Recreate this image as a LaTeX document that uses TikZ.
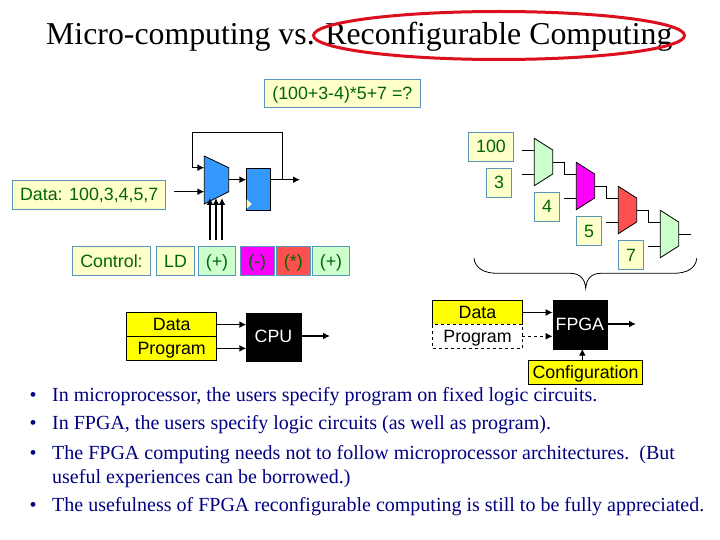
\documentclass[tikz,border=0pt]{standalone}
\usepackage{fontspec}
\setmainfont{Liberation Serif}
\newfontfamily\arialf{Liberation Sans}
\usetikzlibrary{arrows.meta,shapes.geometric}
\definecolor{boxline}{RGB}{90,150,185}
\definecolor{paleyel}{RGB}{255,255,204}
\definecolor{mint}{RGB}{204,255,204}
\definecolor{txtgreen}{RGB}{0,102,0}
\definecolor{redmux}{RGB}{255,80,80}
\definecolor{bluemux}{RGB}{51,153,255}
\definecolor{ringred}{RGB}{220,15,30}
\definecolor{bullettxt}{RGB}{0,0,128}
\definecolor{puremag}{RGB}{255,0,255}
\definecolor{pureyel}{RGB}{255,255,0}
\tikzset{
  sansbox/.style={font=\arialf\fontsize{17.8}{17.8}\selectfont,inner sep=0pt,outer sep=0pt,text height=13pt,text depth=1pt},
  gbox/.style={sansbox,draw=boxline,line width=0.8pt,fill=paleyel,text=txtgreen},
  ybox/.style={sansbox,draw=black,line width=0.8pt,fill=pureyel,text=black},
  dbox/.style={sansbox,draw=black,dashed,line width=0.8pt,fill=white,text=black},
  kbox/.style={sansbox,draw=black,fill=black,text=white},
  thick arrow/.style={line width=1.5pt,-{Latex[length=7pt,width=7pt]}},
  thin wire/.style={line width=0.8pt},
  bulletline/.style={anchor=base west,inner sep=0pt,text=bullettxt,font=\fontsize{20}{20}\selectfont},
}
\newcommand{\bx}[7][]{%
  \pgfmathsetmacro{\cxv}{(#3+#5)/2}\pgfmathsetmacro{\cyv}{(#4+#6)/2}%
  \pgfmathsetmacro{\wv}{#5-#3}\pgfmathsetmacro{\hv}{#6-#4}%
  \node[#1,minimum width=\wv pt,minimum height=\hv pt] (#2) at (\cxv,\cyv) {#7};}
\newcommand{\smallmux}[4]{%
  \pgfmathsetmacro{\xr}{#2+18.4}\pgfmathsetmacro{\ya}{#3+11.7}\pgfmathsetmacro{\yb}{#3+35.7}\pgfmathsetmacro{\yc}{#3+47.4}%
  \pgfmathsetmacro{\yi}{#3+11.9}\pgfmathsetmacro{\yj}{#3+35.9}\pgfmathsetmacro{\yo}{#3+24}%
  \draw[thin wire,fill=#4] (#2,#3) -- (\xr,\ya) -- (\xr,\yb) -- (#2,\yc) -- cycle;
  \coordinate (#1-a) at (#2,\yi);\coordinate (#1-b) at (#2,\yj);\coordinate (#1-o) at (\xr,\yo);}
\begin{document}
\begin{tikzpicture}[x=1pt,y=-1pt]
\useasboundingbox (0,0) rectangle (720,540);
\fill[white] (0,0) rectangle (720,540);
% title
\node[anchor=base west,inner sep=0pt,font=\fontsize{31.8}{31.8}\selectfont] (title) at (46,45) {Micro-computing vs. Reconfigurable Computing};
\node[draw=ringred,line width=3pt,shape=ellipse,minimum width=371pt,minimum height=48pt,inner sep=0pt] (ring) at (499,35.5) {};
% expression
\bx[gbox]{expr}{264}{79}{420.7}{107.7}{(100+3-4)*5+7 =?}
% left data path
\bx[gbox]{datal}{12.7}{180.3}{165.7}{209.7}{Data: 100,3,4,5,7}
\draw[line width=0.8pt,fill=bluemux] (204.3,156) -- (228.7,167.7) -- (228.7,191.7) -- (204.3,204) -- cycle;
\coordinate (alua) at (204.3,167.7);
\coordinate (alub) at (204.3,191.7);
\coordinate (aluo) at (228.7,179.7);
\node[draw=black,fill=bluemux,line width=0.8pt,inner sep=0pt,outer sep=0pt,minimum width=24.4pt,minimum height=42.4pt] (reg) at (258.5,189.5) {};
\draw[fill=paleyel,draw=none] (246.7,199.3) -- (251.7,204) -- (246.7,208.7) -- cycle;
\coordinate (dataout) at (174,191.7);
\coordinate (regout) at (300,179.7);
\coordinate (fbtap) at (282.7,179.7);
\coordinate (fb1) at (282.7,132.7);
\coordinate (fb2) at (192.3,132.7);
\coordinate (fb3) at (192.3,167.7);
\draw[line width=0.8pt] (fbtap) -- (fb1) -- (fb2) -- (fb3);
\draw[thick arrow] (fb3) -- (alua);
\draw[thick arrow] (dataout) -- (alub);
\draw[thick arrow] (aluo) -- (reg.west |- aluo);
\draw[thick arrow] (reg.east |- regout) -- (regout);
\foreach \n/\x in {c1/210,c2/216,c3/222}{
  \coordinate (\n b) at (\x,240);
  \coordinate (\n t) at (\x,198);
  \draw[thick arrow] (\n b) -- (\n t);
}
% control row
\bx[gbox]{ctl}{72.3}{246.3}{150.7}{275.7}{Control:}
\bx[gbox]{ld}{156.3}{246.3}{194.7}{275.7}{LD}
\bx[gbox,fill=mint]{op1}{198.3}{246.3}{235.7}{275.7}{(+)}
\bx[gbox,fill=puremag]{op2}{240.3}{246.3}{274}{275.7}{(-)}
\bx[gbox,fill=redmux]{op3}{276}{246.3}{310.7}{275.7}{(*)}
\bx[gbox,fill=mint]{op4}{312.3}{246.3}{349.7}{275.7}{(+)}
% CPU
\bx[ybox]{dta}{126.7}{312.7}{216.7}{336.5}{Data}
\bx[ybox]{prg}{126.7}{336.5}{216.7}{360.3}{Program}
\bx[kbox]{cpu}{246.3}{312.7}{300.7}{360.7}{CPU}
\coordinate (cpuout) at (330,336);
\draw[thick arrow] (dta.east) -- (cpu.west |- dta.east);
\draw[thick arrow] (prg.east) -- (cpu.west |- prg.east);
\draw[thick arrow] (cpu.east |- cpuout) -- (cpuout);
% FPGA
\bx[ybox]{dtb}{432.7}{300.7}{522.3}{324.3}{Data}
\bx[dbox]{prb}{432.7}{324.3}{522.3}{348.3}{Program}
\bx[kbox]{fpga}{552.7}{300}{607}{348.7}{FPGA}
\bx[ybox]{conf}{528.7}{360.3}{642.3}{384.3}{Configuration}
\coordinate (fpout) at (636,324);
\coordinate (cfgx) at (582.3,360);
\draw[thick arrow] (dtb.east) -- (fpga.west |- dtb.east);
\draw[line width=1.5pt,dashed,-{Latex[length=7pt,width=7pt]}] (prb.east) -- (fpga.west |- prb.east);
\draw[thick arrow] (fpga.east |- fpout) -- (fpout);
\draw[thick arrow] (cfgx |- conf.north) -- (cfgx |- fpga.south);
% chain
\bx[gbox]{n100}{468.3}{132.3}{513.7}{161.3}{100}
\bx[gbox]{n3}{486.3}{168.3}{511.7}{197.7}{3}
\bx[gbox]{n4}{534.3}{192.3}{559.7}{221.7}{4}
\bx[gbox]{n5}{576.3}{216.3}{601.7}{245.7}{5}
\bx[gbox]{n7}{618.3}{240.3}{643.7}{269.7}{7}
\smallmux{m1}{534.3}{138.3}{mint}
\smallmux{m2}{576.3}{162.3}{puremag}
\smallmux{m3}{618.3}{186.3}{redmux}
\smallmux{m4}{660.3}{210.3}{mint}
\coordinate (w1) at (522.3,150.2);
\coordinate (w2) at (522.3,174.2);
\coordinate (w3) at (564.3,198.2);
\coordinate (w4) at (606.3,222.2);
\coordinate (w5) at (648.3,246.2);
\coordinate (wo) at (690.7,234.3);
\draw[thin wire] (w1) -- (m1-a);
\draw[thin wire] (w2) -- (m1-b);
\draw[thin wire] (w3) -- (m2-b);
\draw[thin wire] (w4) -- (m3-b);
\draw[thin wire] (w5) -- (m4-b);
\draw[thin wire] (m1-o) -| (w3 |- m2-a) -- (m2-a);
\draw[thin wire] (m2-o) -| (w4 |- m3-a) -- (m3-a);
\draw[thin wire] (m3-o) -| (w5 |- m4-a) -- (m4-a);
\draw[thin wire] (m4-o) -- (wo);
% brace
\coordinate (bl) at (474,258.3);
\coordinate (bm) at (585.7,288.3);
\coordinate (br) at (696.7,258.3);
\draw[thin wire] (bl) .. controls (475,268) and (484,273.3) .. (497,273.3) -- (570,273.3)
  .. controls (580,273.3) and (585,279) .. (bm)
  .. controls (586.5,279) and (591,273.3) .. (601,273.3) -- (674,273.3)
  .. controls (687,273.3) and (696,268) .. (br);
% bullets
\foreach \yy in {401,429,459,511}{\node[bulletline] at (29.5,\yy) {•};}
\node[bulletline] (b1) at (52,401) {In microprocessor, the users specify program on fixed logic circuits.};
\node[bulletline] (b2) at (52,429) {In FPGA, the users specify logic circuits (as well as program).};
\node[bulletline] (b3) at (52,459) {The FPGA computing needs not to follow microprocessor architectures.\ \ (But};
\node[bulletline] (b3b) at (52,483) {useful experiences can be borrowed.)};
\node[bulletline] (b4) at (52,511) {The usefulness of FPGA reconfigurable computing is still to be fully appreciated.};
\end{tikzpicture}
\end{document}
